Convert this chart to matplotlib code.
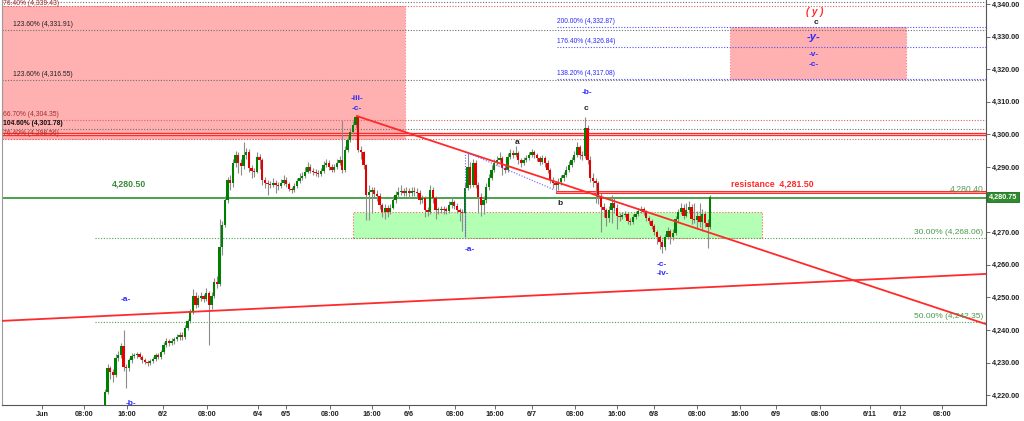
import matplotlib.pyplot as plt
from matplotlib.patches import Rectangle
from matplotlib.ticker import FuncFormatter

plt.rcParams['font.family'] = ['Liberation Sans', 'DejaVu Sans']

# candle data (open of each bar = previous close)
first_open = 4216.0
closes = [
    4221.0, 4228.3, 4227.1, 4226.2, 4231.4, 4232.3, 4235.1, 4228.6, 4228.3, 4230.8,
    4232.0, 4232.3, 4232.6, 4231.7, 4230.8, 4230.2, 4229.9, 4230.5, 4231.1, 4232.3,
    4231.7, 4233.3, 4235.4, 4236.6, 4236.0, 4236.6, 4237.2, 4237.9, 4238.5, 4237.9,
    4240.6, 4242.8, 4245.5, 4250.4, 4247.7, 4249.8, 4250.4, 4249.5, 4251.3, 4247.7,
    4250.4, 4254.7, 4254.1, 4265.5, 4272.2, 4279.9, 4286.0, 4285.1, 4291.2, 4293.7,
    4291.2, 4290.3, 4293.7, 4294.6, 4289.7, 4288.8, 4288.5, 4293.1, 4292.1, 4286.0,
    4285.1, 4284.8, 4284.5, 4285.1, 4284.5, 4284.2, 4285.1, 4286.0, 4284.8, 4283.3,
    4282.9, 4284.2, 4285.7, 4286.6, 4287.2, 4288.5, 4290.0, 4288.8, 4288.5, 4288.2,
    4287.9, 4288.8, 4290.6, 4291.2, 4290.0, 4289.1, 4290.0, 4291.2, 4292.1, 4289.1,
    4295.2, 4298.3, 4300.7, 4302.9, 4305.3, 4295.2, 4294.6, 4290.6, 4281.4, 4282.3,
    4282.9, 4281.7, 4281.1, 4278.3, 4276.2, 4277.4, 4276.2, 4277.4, 4279.9, 4281.4,
    4282.3, 4282.6, 4282.0, 4282.6, 4282.0, 4282.6, 4282.3, 4282.0, 4279.9, 4280.5,
    4276.8, 4276.2, 4282.9, 4280.5, 4276.8, 4276.8, 4277.1, 4276.8, 4276.6, 4278.3,
    4279.3, 4278.0, 4276.8, 4276.2, 4275.9, 4283.6, 4290.0, 4284.5, 4291.2, 4284.5,
    4280.8, 4278.3, 4279.9, 4283.9, 4286.6, 4289.1, 4291.2, 4292.1, 4292.8, 4289.7,
    4289.1, 4293.1, 4294.3, 4293.7, 4294.3, 4292.1, 4291.2, 4292.1, 4292.8, 4293.7,
    4294.6, 4293.7, 4292.8, 4291.5, 4292.8, 4291.2, 4289.1, 4286.0, 4285.1, 4284.5,
    4285.4, 4286.6, 4287.5, 4289.1, 4290.6, 4292.1, 4293.7, 4296.1, 4293.7, 4293.4,
    4302.0, 4292.1, 4286.6, 4285.7, 4285.1, 4280.8, 4277.7, 4276.8, 4274.4, 4276.8,
    4279.0, 4277.4, 4275.0, 4274.7, 4275.3, 4275.6, 4273.4, 4273.1, 4274.7, 4275.6,
    4276.5, 4277.1, 4276.2, 4274.4, 4273.4, 4271.9, 4270.1, 4268.5, 4267.0, 4265.5,
    4268.5, 4270.4, 4268.5, 4269.8, 4273.9, 4276.1, 4277.4, 4275.0, 4276.8, 4277.7,
    4274.0, 4273.7, 4275.0, 4273.1, 4275.6, 4272.8, 4271.6, 4280.75,
]
highs = [
    4222.0, 4229.5, 4229.0, 4228.0, 4232.5, 4233.5, 4236.0, 4240.0, 4229.5, 4231.5,
    4233.0, 4233.0, 4233.3, 4233.2, 4232.2, 4231.3, 4230.8, 4231.2, 4231.8, 4233.0,
    4233.0, 4234.0, 4236.2, 4237.5, 4237.2, 4237.5, 4238.0, 4238.8, 4239.5, 4239.3,
    4241.5, 4243.5, 4246.3, 4252.5, 4251.5, 4250.8, 4251.5, 4251.0, 4253.0, 4252.0,
    4251.5, 4256.0, 4256.5, 4274.0, 4273.5, 4281.0, 4287.0, 4287.5, 4292.5, 4295.0,
    4294.5, 4292.5, 4297.8, 4295.8, 4295.5, 4290.5, 4289.8, 4294.5, 4294.0, 4292.8,
    4287.0, 4286.0, 4285.8, 4286.5, 4286.0, 4285.5, 4286.2, 4287.5, 4286.8, 4285.5,
    4284.0, 4285.2, 4286.5, 4288.0, 4288.5, 4290.0, 4291.5, 4290.8, 4289.8, 4289.5,
    4289.0, 4289.8, 4291.8, 4292.5, 4292.0, 4290.8, 4291.0, 4292.3, 4293.5, 4304.5,
    4296.5, 4299.5, 4302.0, 4304.0, 4306.0, 4306.0, 4296.5, 4295.0, 4291.0, 4284.5,
    4284.0, 4283.8, 4282.8, 4282.0, 4279.0, 4278.5, 4278.2, 4278.5, 4281.0, 4282.5,
    4284.0, 4284.5, 4283.5, 4284.0, 4283.5, 4284.0, 4283.8, 4283.5, 4282.8, 4281.5,
    4281.0, 4277.8, 4284.5, 4284.0, 4281.0, 4277.8, 4278.0, 4278.0, 4277.8, 4279.5,
    4280.5, 4280.0, 4278.8, 4277.5, 4277.0, 4285.0, 4294.3, 4291.5, 4292.5, 4292.0,
    4285.5, 4282.0, 4281.0, 4285.0, 4287.8, 4290.5, 4292.5, 4293.5, 4294.5, 4293.5,
    4290.8, 4294.3, 4295.5, 4295.3, 4296.5, 4295.0, 4292.8, 4293.0, 4293.8, 4294.6,
    4295.5, 4295.3, 4294.3, 4293.5, 4293.8, 4293.5, 4292.0, 4289.8, 4286.8, 4285.8,
    4286.5, 4287.5, 4288.5, 4290.2, 4291.8, 4293.2, 4294.8, 4297.5, 4296.8, 4295.0,
    4305.4, 4303.0, 4293.5, 4288.0, 4286.5, 4285.8, 4282.0, 4278.8, 4277.5, 4278.0,
    4281.5, 4280.5, 4278.5, 4276.0, 4276.2, 4276.5, 4276.3, 4274.3, 4275.5, 4276.5,
    4277.5, 4278.0, 4277.8, 4276.8, 4275.0, 4274.0, 4272.5, 4270.8, 4269.2, 4267.8,
    4269.5, 4271.5, 4271.0, 4271.0, 4275.0, 4277.0, 4279.0, 4278.5, 4279.0, 4279.5,
    4278.5, 4279.0, 4276.5, 4279.0, 4277.0, 4276.5, 4274.0, 4281.5,
]
lows = [
    4214.0, 4220.5, 4225.0, 4224.0, 4225.5, 4230.5, 4231.5, 4227.5, 4222.2, 4227.5,
    4230.0, 4231.3, 4231.5, 4231.0, 4230.0, 4229.5, 4229.0, 4229.2, 4229.8, 4230.5,
    4231.0, 4231.0, 4232.5, 4234.8, 4235.0, 4235.3, 4235.8, 4236.5, 4237.0, 4237.0,
    4237.2, 4240.0, 4242.0, 4245.0, 4246.8, 4247.0, 4249.0, 4248.5, 4248.8, 4235.4,
    4246.5, 4249.8, 4253.0, 4253.5, 4263.0, 4271.5, 4279.0, 4283.0, 4284.0, 4290.0,
    4288.0, 4287.5, 4289.5, 4292.5, 4288.5, 4286.5, 4287.0, 4288.0, 4289.5, 4284.5,
    4283.5, 4281.4, 4283.5, 4283.8, 4282.0, 4283.0, 4283.5, 4284.5, 4283.8, 4282.5,
    4282.0, 4282.2, 4283.5, 4285.0, 4286.0, 4286.5, 4288.0, 4288.0, 4287.5, 4287.3,
    4287.0, 4287.2, 4288.2, 4290.0, 4289.2, 4288.3, 4288.5, 4289.5, 4290.5, 4288.0,
    4288.5, 4294.5, 4297.5, 4300.0, 4302.0, 4294.5, 4292.5, 4289.5, 4273.7, 4273.7,
    4276.0, 4280.5, 4279.5, 4277.0, 4274.5, 4274.0, 4274.5, 4275.5, 4277.0, 4279.0,
    4280.8, 4281.5, 4281.0, 4281.0, 4280.5, 4281.2, 4281.0, 4280.8, 4278.5, 4279.0,
    4274.8, 4275.0, 4275.5, 4279.0, 4274.0, 4275.5, 4275.8, 4275.5, 4275.5, 4276.0,
    4277.5, 4277.0, 4275.8, 4273.5, 4270.5, 4268.6, 4283.0, 4283.5, 4283.8, 4283.5,
    4276.0, 4275.0, 4275.5, 4279.0, 4283.0, 4286.0, 4288.5, 4290.5, 4291.5, 4287.5,
    4288.0, 4288.5, 4292.5, 4292.8, 4293.0, 4291.0, 4290.0, 4290.5, 4291.5, 4292.2,
    4293.0, 4292.8, 4291.8, 4290.5, 4290.8, 4290.0, 4288.0, 4285.0, 4283.5, 4282.4,
    4283.0, 4284.5, 4285.8, 4287.0, 4288.5, 4290.0, 4291.5, 4293.0, 4292.5, 4292.0,
    4292.8, 4291.0, 4285.5, 4284.0, 4279.0, 4278.5, 4270.2, 4274.5, 4272.0, 4273.0,
    4272.8, 4276.0, 4271.0, 4273.5, 4274.0, 4274.5, 4272.5, 4272.3, 4272.5, 4274.0,
    4275.0, 4276.0, 4275.3, 4273.5, 4272.5, 4271.0, 4269.0, 4266.5, 4264.8, 4263.6,
    4264.5, 4267.8, 4266.5, 4267.5, 4269.0, 4273.0, 4275.5, 4274.0, 4274.5, 4276.0,
    4272.5, 4272.8, 4271.0, 4271.5, 4270.5, 4271.5, 4265.2, 4271.0,
]

# time axis labels (positions in bar units)
tick_pos = [-23.6, -7.9, 8.25, 21.75, 38.25, 57.4, 67.9, 84.4, 100.1, 114.0, 131.25,
            146.25, 160.1, 176.25, 192.0, 205.9, 222.0, 238.1, 251.6, 268.1, 286.9,
            298.1, 313.9]
tick_labels = ['Jun', '08:00', '16:00', '6/2', '08:00', '6/4', '6/5', '08:00', '16:00',
               '6/6', '08:00', '16:00', '6/7', '08:00', '16:00', '6/8', '08:00', '16:00',
               '6/9', '08:00', '6/11', '6/12', '08:00']

# fibonacci levels
left_levels = [4339.43, 4331.91, 4316.55, 4304.35, 4301.78, 4298.56]
left_texts = ['76.40% (4,339.43)', '123.60% (4,331.91)', '123.60% (4,316.55)',
              '66.70% (4,304.35)', '104.60% (4,301.78)', '76.40% (4,298.56)']
left_colors = ['#a03030', '#222222', '#222222', '#a03030', '#111111', '#a03030']
blue_levels = [4332.87, 4326.84, 4317.08]
blue_texts = ['200.00% (4,332.87)', '176.40% (4,326.84)', '138.20% (4,317.08)']
green_levels = [4268.06, 4242.35]
green_texts = ['30.00% (4,268.06)', '50.00% (4,242.35)']

support = 4280.50
resistance = 4281.50
last_price = 4280.75

x_left, x_right = -38.6, 330.4
y_low, y_high = 4217.0, 4341.2
RED = '#ff2a2a'
BLUE = '#2a2aff'

fig = plt.figure(figsize=(10.24, 4.21), dpi=100)
ax = fig.add_axes([2 / 1024, 16 / 421, 984 / 1024, 405 / 421])
ax.set_xlim(x_left, x_right)
ax.set_ylim(y_low, y_high)

# zones
ax.add_patch(Rectangle((x_left, 4298.56), 112.5 - x_left, 4339.43 - 4298.56,
                       facecolor='#ffb0b0', edgecolor='#ff8080', ls=':', lw=0.8, zorder=0))
ax.add_patch(Rectangle((234.4, 4317.08), 66.0, 4332.87 - 4317.08,
                       facecolor='#ffb0b0', edgecolor='#ff8080', ls=':', lw=0.8, zorder=0))
ax.add_patch(Rectangle((93.0, 4268.06), 153.4, 4276.3 - 4268.06,
                       facecolor='#b3ffb3', edgecolor='#ff6060', ls=':', lw=0.8, zorder=0))

dot = (0, (1, 1.5))
# grey and red dotted levels across the chart
for lv in [4340.5, 4331.91, 4316.55, 4301.78]:
    ax.axhline(lv, color='#707070', ls=dot, lw=0.8, zorder=1)
for lv in [4339.43, 4304.35, 4298.56]:
    ax.axhline(lv, color='#e06060', ls=dot, lw=0.8, zorder=1)

for lv, t, c in zip(left_levels, left_texts, left_colors):
    x0 = -34.5 if t.startswith('123') else -38.2
    if lv > 4338:
        # top label sits right under the frame edge
        ax.text(x0, y_high - 0.1, t, fontsize=4.9, color=c, va='top', ha='left', zorder=6)
        continue
    ax.text(x0, lv + 0.6, t, fontsize=4.9, color=c, va='bottom', ha='left',
            fontweight='bold' if t.startswith('104') else 'normal', zorder=6)

for lv, t in zip(blue_levels, blue_texts):
    ax.plot([169.5, x_right], [lv, lv], color='#5050ff', ls=dot, lw=0.8, zorder=1)
    ax.text(169.5, lv + 0.6, t, fontsize=4.8, color=BLUE, va='bottom', ha='left', zorder=6)

for lv, t in zip(green_levels, green_texts):
    ax.plot([-3.75, x_right], [lv, lv], color='#50a050', ls=dot, lw=0.8, zorder=1)
    ax.text(329.3, lv + 0.7, t, fontsize=6, color='#4a9a4a', va='bottom', ha='right', zorder=6)

# red double line near 4300
ax.axhline(4300.0, color=RED, lw=2.4, zorder=2)
ax.axhline(4300.0, color='#ffd0d0', lw=0.6, zorder=2)

# support / resistance
ax.axhline(support, color='#3c9c3c', lw=1.3, zorder=2)
ax.text(9, 4284.8, '4,280.50', fontsize=6.3, color='#3a8a3a', fontweight='bold',
        ha='center', va='center', zorder=6)
ax.plot([169.5, x_right], [4282.3, 4282.3], color=RED, lw=2.2, zorder=2)
ax.plot([169.5, x_right], [4282.3, 4282.3], color='#ffd0d0', lw=0.5, zorder=2)
ax.text(234.75, 4284.8, 'resistance  {:,.2f}'.format(resistance), fontsize=6.3,
        color=RED, fontweight='bold', ha='left', va='center', zorder=6)
ax.text(329.5, 4283.0, '4,280.40', fontsize=6.2, color='#5a9a5a', ha='right',
        va='center', zorder=6)

# candles
opens = [first_open] + closes[:-1]
xs = list(range(len(closes)))
ax.vlines(xs, lows, highs, color='#8c8c8c', lw=0.8, zorder=3)
for i, (o, c) in enumerate(zip(opens, closes)):
    col = '#008000' if c >= o else '#e60000'
    h = max(abs(c - o), 0.4)
    ax.bar(i, h, bottom=min(o, c), width=0.85, color=col, lw=0, zorder=4)

# trend lines
ax.plot([94.5, x_right], [4305.6, 4241.8], color=RED, lw=1.3, zorder=5)
ax.plot([x_left, x_right], [4242.8, 4257.2], color=RED, lw=1.3, zorder=5)

# blue dotted wave sketch
ax.plot([135.0, 135.0], [4268.8, 4294.3], color='#6060ff', ls=dot, lw=0.8, zorder=5)
ax.plot([136.1, 168.75], [4294.3, 4282.9], color='#6060ff', ls=dot, lw=0.8, zorder=5)

# wave labels
wave = [
    (94.5, 4310.9, '-iii-', BLUE), (94.5, 4307.8, '-c-', BLUE),
    (137.0, 4264.8, '-a-', BLUE), (154.5, 4297.4, 'a', '#222222'),
    (170.6, 4278.7, 'b', '#222222'), (180.75, 4312.7, '-b-', BLUE),
    (180.4, 4307.8, 'c', '#222222'), (208.9, 4260.2, '-c-', BLUE),
    (209.25, 4257.2, '-iv-', BLUE), (7.9, 4249.5, '-a-', BLUE),
    (9.75, 4217.6, '-b-', BLUE), (266.6, 4334.2, 'c', '#222222'),
    (265.9, 4324.4, '-v-', BLUE), (265.9, 4321.3, '-c-', BLUE),
]
for x, y, t, c in wave:
    ax.text(x, y, t, fontsize=6, color=c, ha='center', va='center', zorder=6,
            fontweight='bold')
ax.text(266.2, 4337.6, '( y )', fontsize=7, color=RED, style='italic', fontweight='bold',
        ha='center', va='center', zorder=6)
ax.text(265.9, 4329.9, '-y-', fontsize=8, color=BLUE, style='italic', fontweight='bold',
        ha='center', va='center', zorder=6)

# axes styling
ax.yaxis.tick_right()
ax.set_yticks(range(4220, 4341, 10))
# the 4,280 label sits under the last-price box
ax.yaxis.set_major_formatter(FuncFormatter(
    lambda v, p: '' if abs(v - 4280) < 1 else '{:,.2f}'.format(v)))
ax.set_xticks(tick_pos)
ax.set_xticklabels(tick_labels)
ax.tick_params(axis='both', labelsize=5.2, length=3, width=0.6, color='#555555',
               labelcolor='#222222', pad=1.5)
for lab in ax.get_xticklabels() + ax.get_yticklabels():
    lab.set_fontweight('bold')
ax.spines['top'].set_visible(False)
ax.spines['left'].set_color('#9a9a9a')
ax.spines['right'].set_color('#555555')
ax.spines['bottom'].set_color('#555555')
for s in ax.spines.values():
    s.set_linewidth(0.8)

ax.text(1.003, last_price, '{:,.2f}'.format(last_price), transform=ax.get_yaxis_transform(),
        fontsize=5.2, color='white', fontweight='bold', ha='left', va='center', zorder=7,
        clip_on=False, bbox=dict(boxstyle='square,pad=0.25', fc='#2e8b2e', ec='#1e6b1e', lw=0.6))

fig.savefig('out.png', dpi=100)
